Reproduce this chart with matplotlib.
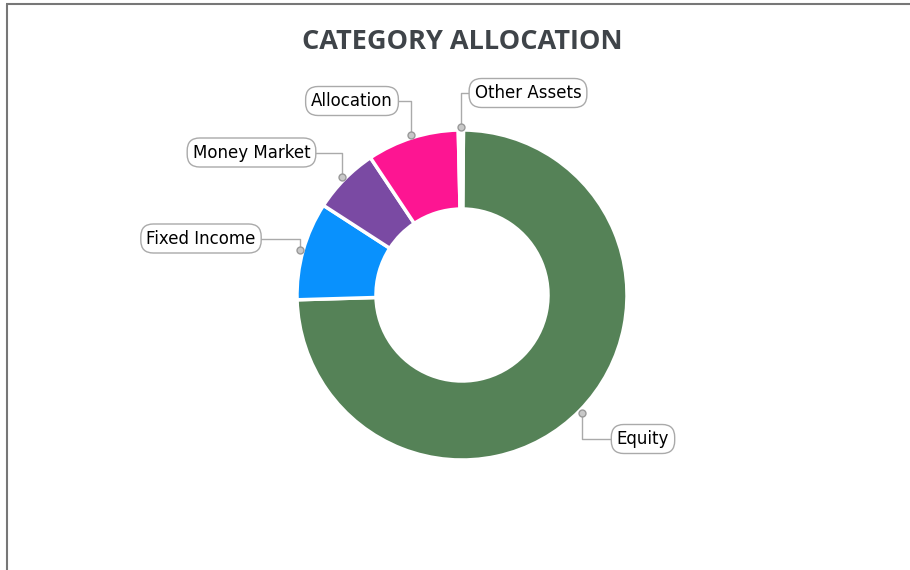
import numpy as np
import matplotlib
matplotlib.use("Agg")
import matplotlib.pyplot as plt

# data
categories = ["Equity", "Fixed Income", "Money Market", "Allocation", "Other Assets"]
values = [74.4, 9.6, 6.5, 9.0, 0.5]
colors = ["#558257", "#0991fd", "#7a4aa3", "#fd1592", "#ffffff"]

W, H = 910, 570
CX, CY = 462, 295          # donut centre, pixel coords from top-left
R_OUT, R_IN = 165, 86

# label box centres (pixel coords from top-left)
label_pos = {
    "Equity": (643, 439),
    "Fixed Income": (201, 238.5),
    "Money Market": (251.5, 152.5),
    "Allocation": (352, 101),
    "Other Assets": (528, 93),
}


def py(y):
    return H - y


fig = plt.figure(figsize=(W / 100, H / 100), dpi=100)
ax = fig.add_axes([0, 0, 1, 1])

wedges, _ = ax.pie(values, colors=colors, startangle=89.5, counterclock=False,
                   center=(CX, py(CY)), radius=R_OUT,
                   wedgeprops=dict(width=R_OUT - R_IN, edgecolor="white",
                                   linewidth=2.5))
# pie resets the limits, so set them afterwards
ax.set_xlim(0, W)
ax.set_ylim(0, H)
ax.set_aspect("equal")
ax.axis("off")

# labels with elbow connectors
for w, name in zip(wedges, categories):
    ang = np.deg2rad((w.theta1 + w.theta2) / 2)
    dx = CX + (R_OUT + 3) * np.cos(ang)
    dy = py(CY) + (R_OUT + 3) * np.sin(ang)
    lx, ly = label_pos[name]
    ax.plot([dx, dx, lx], [dy, py(ly), py(ly)], color="#aaaaaa", lw=1, zorder=3)
    ax.plot(dx, dy, "o", ms=5, mfc="#c8c8c8", mec="#999999", mew=1, zorder=4)
    ax.text(lx, py(ly), name, ha="center", va="center", fontsize=12,
            family="DejaVu Sans", color="black", zorder=5,
            bbox=dict(boxstyle="round,pad=0.33,rounding_size=0.75",
                      fc="white", ec="#aaaaaa", lw=1))

ax.text(462, py(42), "CATEGORY ALLOCATION", ha="center", va="center",
        fontsize=19.5, fontweight="bold", family="Open Sans", color="#3f4449")

# frame lines at top and left
ax.plot([6, W], [py(4), py(4)], color="#777777", lw=1.5, solid_capstyle="butt")
ax.plot([7, 7], [py(4), 0], color="#777777", lw=1.5, solid_capstyle="butt")

fig.savefig("out.png", dpi=100)
